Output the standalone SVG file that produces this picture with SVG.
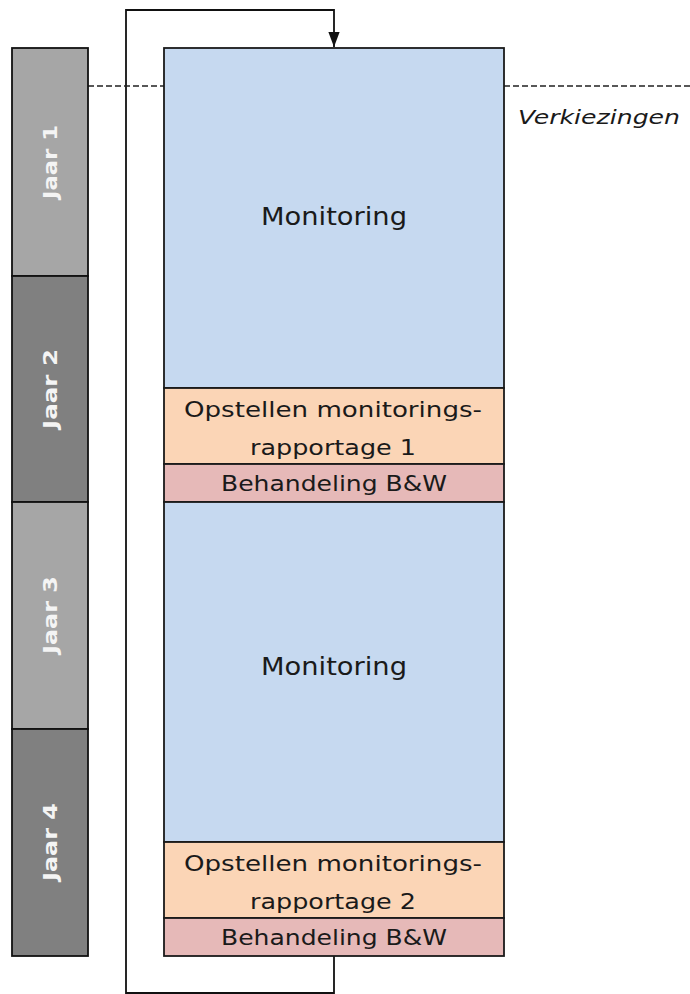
<svg xmlns="http://www.w3.org/2000/svg" width="690" height="994" viewBox="0 0 690 994">
<style>
.yr{stroke:#111;stroke-width:1.8}
.dark{fill:#808080}
.light{fill:#a6a6a6}
.ylab{font-family:"DejaVu Sans",sans-serif;font-weight:bold;font-size:19px;fill:#f4f4f4;text-anchor:middle}
.blk{stroke:#1a1a1a;stroke-width:1.8}
.mon{fill:#c6d9f0}
.ops{fill:#fbd5b6}
.beh{fill:#e6b9b8}
.t{font-family:"DejaVu Sans",sans-serif;fill:#1a1a1a;text-anchor:middle}
.conn{fill:none;stroke:#111;stroke-width:1.8}
.dash{fill:none;stroke:#222;stroke-width:1.6;stroke-dasharray:6 3}
</style>
<defs>
<marker id="arr" viewBox="0 0 16 12" refX="16" refY="6" markerWidth="15" markerHeight="12" markerUnits="userSpaceOnUse" orient="auto">
<path d="M0,0 L16,6 L0,12 z" fill="#111"/>
</marker>
</defs>
<rect width="690" height="994" fill="#fff"/>
<g id="connectors">
<path class="conn" d="M334,956 V993 H126 V10 H334 V47" marker-end="url(#arr)"/>
<line class="dash" x1="88" y1="86" x2="164" y2="86"/>
<line class="dash" x1="504" y1="86" x2="690" y2="86"/>
</g>
<g id="jaar1">
<rect class="yr light" x="12" y="48" width="76" height="228"/>
<text class="ylab" transform="translate(50,162) rotate(-90)" y="7" textLength="74" lengthAdjust="spacingAndGlyphs">Jaar 1</text>
</g>
<g id="jaar2">
<rect class="yr dark" x="12" y="276" width="76" height="226"/>
<text class="ylab" transform="translate(50,389) rotate(-90)" y="7" textLength="80" lengthAdjust="spacingAndGlyphs">Jaar 2</text>
</g>
<g id="jaar3">
<rect class="yr light" x="12" y="502" width="76" height="227"/>
<text class="ylab" transform="translate(50,615) rotate(-90)" y="7" textLength="78" lengthAdjust="spacingAndGlyphs">Jaar 3</text>
</g>
<g id="jaar4">
<rect class="yr dark" x="12" y="729" width="76" height="227"/>
<text class="ylab" transform="translate(50,842) rotate(-90)" y="7" textLength="78" lengthAdjust="spacingAndGlyphs">Jaar 4</text>
</g>
<g id="monitoring1">
<rect class="blk mon" x="164" y="48" width="340" height="340"/>
<text class="t" x="334" y="225" font-size="25" textLength="146" lengthAdjust="spacingAndGlyphs">Monitoring</text>
</g>
<g id="opstellen1">
<rect class="blk ops" x="164" y="388" width="340" height="76"/>
<text class="t" x="333" y="417" font-size="22" textLength="298" lengthAdjust="spacingAndGlyphs">Opstellen monitorings-</text>
<text class="t" x="333" y="455" font-size="22" textLength="166" lengthAdjust="spacingAndGlyphs">rapportage 1</text>
</g>
<g id="behandeling1">
<rect class="blk beh" x="164" y="464" width="340" height="38"/>
<text class="t" x="334" y="491" font-size="22" textLength="226" lengthAdjust="spacingAndGlyphs">Behandeling B&amp;W</text>
</g>
<g id="monitoring2">
<rect class="blk mon" x="164" y="502" width="340" height="340"/>
<text class="t" x="334" y="675" font-size="25" textLength="146" lengthAdjust="spacingAndGlyphs">Monitoring</text>
</g>
<g id="opstellen2">
<rect class="blk ops" x="164" y="842" width="340" height="76"/>
<text class="t" x="333" y="871" font-size="22" textLength="298" lengthAdjust="spacingAndGlyphs">Opstellen monitorings-</text>
<text class="t" x="333" y="909" font-size="22" textLength="166" lengthAdjust="spacingAndGlyphs">rapportage 2</text>
</g>
<g id="behandeling2">
<rect class="blk beh" x="164" y="918" width="340" height="38"/>
<text class="t" x="334" y="945" font-size="22" textLength="226" lengthAdjust="spacingAndGlyphs">Behandeling B&amp;W</text>
</g>
<g id="verkiezingen">
<text x="518" y="124" font-family="DejaVu Sans,sans-serif" font-style="italic" font-size="20" fill="#1a1a1a" textLength="162" lengthAdjust="spacingAndGlyphs">Verkiezingen</text>
</g>
</svg>
